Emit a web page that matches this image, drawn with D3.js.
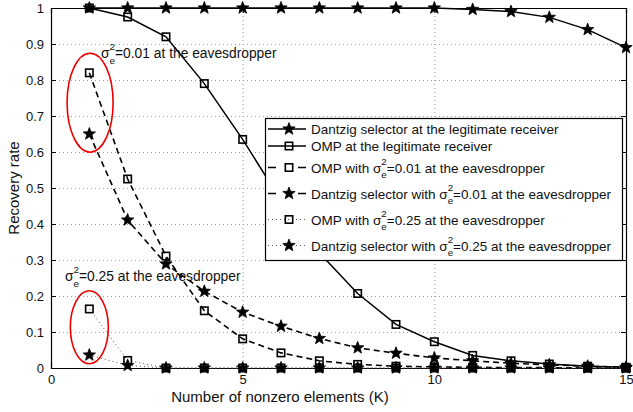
<!DOCTYPE html>
<html>
<head>
<meta charset="utf-8">
<script src="https://cdn.jsdelivr.net/npm/d3@7"></script>
<style>
  body { margin: 0; background: #fff; }
  text { font-family: "Liberation Sans", Arial, sans-serif; fill: #111; white-space: pre; }
</style>
</head>
<body>
<script>
// values, K = 1..15
const K = d3.range(1, 16);
const dantzigLegit = [1, 1, 1, 1, 1, 1, 1, 1, 1, 1, 0.996, 0.99, 0.974, 0.94, 0.89];
const ompLegit = [1, 0.975, 0.92, 0.79, 0.635, 0.465, 0.32, 0.207, 0.121, 0.073, 0.035, 0.02, 0.011, 0.005, 0.002];
const omp001 = [0.82, 0.525, 0.311, 0.159, 0.081, 0.042, 0.02, 0.01, 0.005, 0.003, 0.002, 0.001, 0.001, 0, 0];
const dantzig001 = [0.65, 0.411, 0.289, 0.213, 0.155, 0.116, 0.082, 0.056, 0.041, 0.028, 0.02, 0.013, 0.009, 0.005, 0.002];
const omp025 = [0.164, 0.021, 0, 0, 0, 0, 0, 0, 0, 0, 0, 0, 0, 0, 0];
const dantzig025 = [0.036, 0.007, 0, 0, 0, 0, 0, 0, 0, 0, 0, 0, 0, 0, 0];

const xTicks = [0, 5, 10, 15];
const yTicks = d3.range(0, 11).map(d => d / 10);

const series = [
  { label: ['Dantzig selector at the legitimate receiver'], values: dantzigLegit, marker: 'star', dash: null },
  { label: ['OMP at the legitimate receiver'], values: ompLegit, marker: 'square', dash: null },
  { label: ['OMP with ', '0.01'], values: omp001, marker: 'square', dash: '6,4' },
  { label: ['Dantzig selector with ', '0.01'], values: dantzig001, marker: 'star', dash: '6,4' },
  { label: ['OMP with ', '0.25'], values: omp025, marker: 'square', dash: 'dot' },
  { label: ['Dantzig selector with ', '0.25'], values: dantzig025, marker: 'star', dash: 'dot' }
];

const W = 633, H = 412;
const margin = { top: 8, right: 7, bottom: 44, left: 51 };

const svg = d3.select('body').append('svg')
    .attr('width', W)
    .attr('height', H);

const x = d3.scaleLinear().domain([0, 15]).range([margin.left, W - margin.right]);
const y = d3.scaleLinear().domain([0, 1]).range([H - margin.bottom, margin.top]);

// grid
const grid = svg.append('g')
    .attr('stroke', '#999')
    .attr('stroke-width', 1)
    .attr('stroke-dasharray', '1,3');
grid.selectAll('.gx').data(xTicks.slice(1, -1)).join('line')
    .attr('x1', d => x(d) + 0.5).attr('x2', d => x(d) + 0.5)
    .attr('y1', y(1)).attr('y2', y(0));
grid.selectAll('.gy').data(yTicks.slice(1, -1)).join('line')
    .attr('x1', x(0)).attr('x2', x(15))
    .attr('y1', d => Math.round(y(d)) + 0.5).attr('y2', d => Math.round(y(d)) + 0.5);

// axes (MATLAB box with inside ticks)
const fmt = d => d === 0 || d === 1 ? String(d) : d.toFixed(1);
svg.append('g')
    .attr('transform', `translate(0,${y(0)})`)
    .call(d3.axisBottom(x).tickValues(xTicks).tickSize(-5).tickPadding(7).tickFormat(d3.format('d')));
svg.append('g')
    .attr('transform', `translate(0,${y(1)})`)
    .call(d3.axisTop(x).tickValues(xTicks).tickSize(-5).tickFormat(''));
svg.append('g')
    .attr('transform', `translate(${x(0)},0)`)
    .call(d3.axisLeft(y).tickValues(yTicks).tickSize(-5).tickPadding(7).tickFormat(fmt));
svg.append('g')
    .attr('transform', `translate(${x(15)},0)`)
    .call(d3.axisRight(y).tickValues(yTicks).tickSize(-5).tickFormat(''));
svg.selectAll('.domain').attr('stroke', '#000').attr('stroke-width', 1.2);
svg.selectAll('.tick line').attr('stroke', '#000');
svg.selectAll('.tick text')
    .style('font-family', '"Liberation Sans", Arial, sans-serif')
    .style('font-size', '13px')
    .attr('fill', '#111');

// markers
const starPath = (r) => {
  const pts = [];
  for (let i = 0; i < 10; i++) {
    const a = -Math.PI / 2 + i * Math.PI / 5;
    const rr = i % 2 === 0 ? r : r * 0.42;
    pts.push([rr * Math.cos(a), rr * Math.sin(a)]);
  }
  return 'M' + pts.map(p => p.join(',')).join('L') + 'Z';
};

function drawMarker(g, type, cx, cy) {
  if (type === 'star') {
    g.append('path')
        .attr('d', starPath(6.5))
        .attr('transform', `translate(${cx},${cy})`)
        .attr('fill', '#000')
        .attr('stroke', '#000')
        .attr('stroke-width', 0.8)
        .attr('stroke-linejoin', 'miter');
  } else {
    g.append('rect')
        .attr('x', cx - 3.7).attr('y', cy - 3.7)
        .attr('width', 7.4).attr('height', 7.4)
        .attr('fill', 'none')
        .attr('stroke', '#000')
        .attr('stroke-width', 1.6);
  }
}

function styleLine(sel, dash) {
  sel.attr('fill', 'none').attr('stroke', '#000');
  if (dash === 'dot') sel.attr('stroke-width', 1).attr('stroke-dasharray', '1,3').attr('stroke', '#555');
  else if (dash) sel.attr('stroke-width', 1.6).attr('stroke-dasharray', dash);
  else sel.attr('stroke-width', 1.5);
  return sel;
}

const line = d3.line().x((d, i) => x(K[i])).y(d => y(d));
const plot = svg.append('g');
series.forEach(s => {
  styleLine(plot.append('path').attr('d', line(s.values)), s.dash);
  const mg = plot.append('g');
  s.values.forEach((v, i) => drawMarker(mg, s.marker, x(K[i]), y(v)));
});

// sigma_e^2 label helper
function sigmaText(g, x0, yb, prefix, value, suffix, fs) {
  let cx = x0;
  const put = (str, xx, yy, size) => {
    const t = g.append('text').attr('x', xx).attr('y', yy)
        .style('font-size', size + 'px').text(str);
    return t.node().getComputedTextLength();
  };
  if (prefix) cx += put(prefix, cx, yb, fs);
  cx += put('σ', cx, yb, fs);
  const w1 = put('2', cx, yb - fs * 0.55, fs * 0.72);
  const w2 = put('e', cx, yb + fs * 0.42, fs * 0.72);
  cx += Math.max(w1, w2);
  put('=' + value + suffix, cx, yb, fs);
}

// annotations
const ann = svg.append('g');
sigmaText(ann, 101, 58, '', '0.01', ' at the eavesdropper', 13.8);
sigmaText(ann, 65, 281, '', '0.25', ' at the eavesdropper', 13.8);
ann.append('ellipse')
    .attr('cx', x(1.02)).attr('cy', y(0.737))
    .attr('rx', 23).attr('ry', 49.5)
    .attr('fill', 'none').attr('stroke', '#e00').attr('stroke-width', 1.6);
ann.append('ellipse')
    .attr('cx', x(1)).attr('cy', y(0.113))
    .attr('rx', 19).attr('ry', 36.5)
    .attr('fill', 'none').attr('stroke', '#e00').attr('stroke-width', 1.6);

// legend
const lg = svg.append('g');
lg.append('rect')
    .attr('x', 265.5).attr('y', 118.5)
    .attr('width', 357).attr('height', 142)
    .attr('fill', '#fff').attr('stroke', '#000').attr('stroke-width', 1.2);
let ly = 118;
series.forEach(s => {
  const sig = s.label.length > 1;
  const cy = ly + (sig ? 13 : (ly === 118 ? 11 : 8.5));
  ly = cy + (sig ? 13 : 8.5);
  const ln = lg.append('line')
      .attr('x1', 268).attr('x2', 306)
      .attr('y1', cy).attr('y2', cy);
  styleLine(ln, s.dash === 'dot' ? 'dot' : (s.dash ? '8,22' : null));
  drawMarker(lg, s.marker, 289, cy);
  if (sig) {
    sigmaText(lg, 311, cy + 5, s.label[0], s.label[1], ' at the eavesdropper', 13.5);
  } else {
    lg.append('text').attr('x', 311).attr('y', cy + 5)
        .style('font-size', '13.5px').text(s.label[0]);
  }
});

// axis labels
svg.append('text')
    .attr('x', 280).attr('y', 402)
    .attr('text-anchor', 'middle')
    .style('font-size', '15px')
    .text('Number of nonzero elements (K)');
svg.append('text')
    .attr('transform', 'translate(19,188) rotate(-90)')
    .attr('text-anchor', 'middle')
    .style('font-size', '15px')
    .text('Recovery rate');
</script>
</body>
</html>
